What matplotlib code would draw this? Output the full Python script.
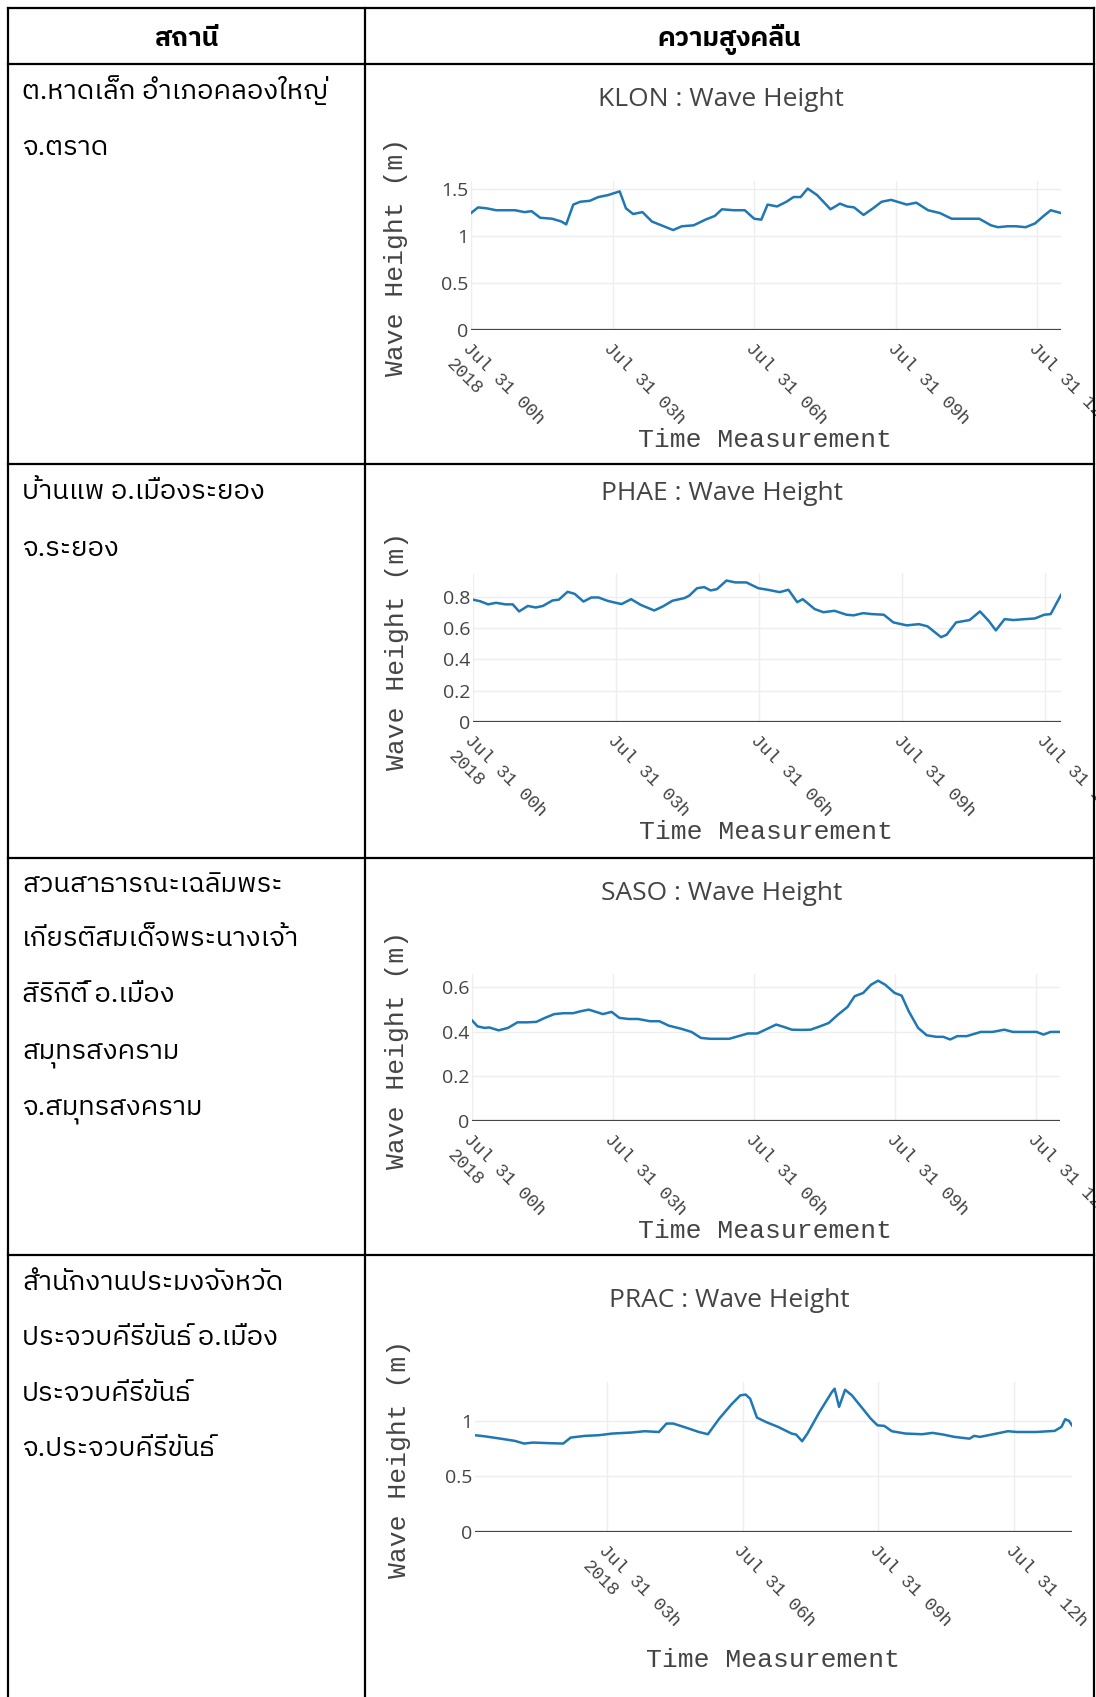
import numpy as np
import matplotlib
matplotlib.use("Agg")
import matplotlib.pyplot as plt
from matplotlib.lines import Line2D
import matplotlib.font_manager as fm
from matplotlib.ft2font import FT2Font

# ---------------- data ----------------
header_station = "สถานี"
header_wave = "ความสูงคลื่น"

station_lines = [
    ["ต.หาดเล็ก อำเภอคลองใหญ่", "จ.ตราด"],
    ["บ้านแพ อ.เมืองระยอง", "จ.ระยอง"],
    ["สวนสาธารณะเฉลิมพระ", "เกียรติสมเด็จพระนางเจ้า", "สิริกิติ์ อ.เมือง",
     "สมุทรสงคราม", "จ.สมุทรสงคราม"],
    ["สำนักงานประมงจังหวัด", "ประจวบคีรีขันธ์ อ.เมือง", "ประจวบคีรีขันธ์",
     "จ.ประจวบคีรีขันธ์"],
]

chart_titles = ["KLON : Wave Height", "PHAE : Wave Height",
                "SASO : Wave Height", "PRAC : Wave Height"]
y_title = "Wave Height (m)"
x_title = "Time Measurement"

# hours after 2018-07-31 00:00
klon_hours = [0.00, 0.15, 0.34, 0.54, 0.74, 0.93, 1.13, 1.28, 1.47, 1.72, 1.92, 2.02,
              2.16, 2.31, 2.51, 2.70, 2.90, 3.15, 3.29, 3.44, 3.64, 3.83, 4.08, 4.28,
              4.47, 4.72, 4.97, 5.16, 5.31, 5.56, 5.80, 6.00, 6.15, 6.29, 6.49, 6.69,
              6.83, 6.98, 7.13, 7.33, 7.47, 7.62, 7.82, 7.96, 8.11, 8.31, 8.51, 8.70,
              8.90, 9.10, 9.24, 9.44, 9.69, 9.93, 10.18, 10.47, 10.77, 11.01, 11.16,
              11.36, 11.55, 11.75, 11.95, 12.14, 12.29, 12.50]
klon_height = [1.24, 1.30, 1.29, 1.27, 1.27, 1.27, 1.25, 1.26, 1.19, 1.18, 1.15, 1.12,
               1.33, 1.36, 1.37, 1.41, 1.43, 1.47, 1.29, 1.23, 1.25, 1.15, 1.10, 1.06,
               1.10, 1.11, 1.17, 1.21, 1.28, 1.27, 1.27, 1.18, 1.17, 1.33, 1.31, 1.36,
               1.41, 1.41, 1.50, 1.43, 1.36, 1.28, 1.34, 1.31, 1.30, 1.22, 1.29, 1.36,
               1.38, 1.35, 1.33, 1.35, 1.27, 1.24, 1.18, 1.18, 1.18, 1.11, 1.09,
               1.10, 1.10, 1.09, 1.13, 1.21, 1.27, 1.24]

phae_hours = [0.00, 0.15, 0.31, 0.49, 0.68, 0.83, 0.97, 1.15, 1.31, 1.46, 1.66, 1.80,
              1.98, 2.14, 2.31, 2.48, 2.63, 2.82, 2.97, 3.12, 3.31, 3.51, 3.80, 3.99,
              4.19, 4.43, 4.53, 4.70, 4.85, 4.99, 5.11, 5.31, 5.50, 5.74, 5.99, 6.18,
              6.43, 6.62, 6.80, 6.91, 7.16, 7.35, 7.59, 7.84, 7.98, 8.18, 8.37, 8.62,
              8.81, 9.10, 9.35, 9.54, 9.81, 9.93, 10.13, 10.42, 10.63, 10.81, 10.97,
              11.15, 11.34, 11.59, 11.78, 11.98, 12.12, 12.34]
phae_height = [0.780, 0.770, 0.750, 0.760, 0.750, 0.750, 0.705, 0.740, 0.730, 0.740,
               0.775, 0.780, 0.830, 0.817, 0.768, 0.794, 0.794, 0.773, 0.762, 0.752,
               0.783, 0.747, 0.711, 0.737, 0.773, 0.790, 0.805, 0.853, 0.860, 0.839,
               0.847, 0.902, 0.890, 0.890, 0.853, 0.843, 0.828, 0.843, 0.764, 0.783,
               0.720, 0.700, 0.709, 0.684, 0.680, 0.694, 0.688, 0.684, 0.635, 0.616,
               0.624, 0.610, 0.541, 0.556, 0.635, 0.650, 0.705, 0.645, 0.584, 0.656,
               0.650, 0.656, 0.660, 0.684, 0.688, 0.810]

saso_hours = [0.00, 0.12, 0.27, 0.37, 0.56, 0.76, 0.96, 1.16, 1.36, 1.55, 1.75, 1.95,
              2.15, 2.32, 2.48, 2.64, 2.79, 2.96, 3.14, 3.34, 3.53, 3.78, 3.98, 4.18,
              4.43, 4.67, 4.87, 5.07, 5.27, 5.47, 5.66, 5.86, 6.06, 6.26, 6.46, 6.65,
              6.80, 7.00, 7.20, 7.40, 7.59, 7.79, 7.99, 8.14, 8.32, 8.49, 8.63, 8.78,
              8.98, 9.13, 9.28, 9.48, 9.67, 9.87, 10.02, 10.17, 10.32, 10.51, 10.81,
              11.06, 11.31, 11.50, 11.80, 12.00, 12.15, 12.30, 12.50]
saso_height = [0.452, 0.425, 0.418, 0.420, 0.407, 0.418, 0.443, 0.443, 0.445, 0.463,
               0.480, 0.484, 0.484, 0.493, 0.500, 0.490, 0.480, 0.490, 0.463, 0.458,
               0.458, 0.448, 0.448, 0.428, 0.415, 0.400, 0.373, 0.369, 0.369, 0.369,
               0.381, 0.393, 0.393, 0.413, 0.433, 0.421, 0.410, 0.409, 0.410, 0.425,
               0.440, 0.478, 0.512, 0.560, 0.575, 0.612, 0.630, 0.612, 0.575, 0.563,
               0.493, 0.418, 0.385, 0.378, 0.378, 0.366, 0.381, 0.381, 0.400, 0.400,
               0.410, 0.400, 0.400, 0.400, 0.388, 0.400, 0.400]

prac_hours = [0.09, 0.29, 0.65, 0.96, 1.17, 1.37, 1.68, 2.04, 2.20, 2.51, 2.81, 3.12,
              3.53, 3.84, 4.15, 4.31, 4.46, 4.77, 5.03, 5.23, 5.49, 5.75, 5.95, 6.06,
              6.16, 6.31, 6.52, 6.78, 7.08, 7.19, 7.31, 7.44, 7.70, 7.96, 8.04, 8.14,
              8.27, 8.42, 8.68, 8.83, 8.99, 9.14, 9.30, 9.60, 9.96, 10.20, 10.43, 10.69,
              11.01, 11.12, 11.25, 11.61, 11.87, 12.07, 12.49, 12.90, 13.05, 13.13,
              13.21, 13.28]
prac_height = [0.871, 0.862, 0.840, 0.820, 0.796, 0.805, 0.800, 0.796, 0.850, 0.865,
               0.871, 0.886, 0.895, 0.907, 0.900, 0.976, 0.976, 0.937, 0.900, 0.880,
               1.020, 1.147, 1.230, 1.237, 1.200, 1.030, 0.990, 0.946, 0.886, 0.877,
               0.817, 0.886, 1.080, 1.255, 1.290, 1.126, 1.280, 1.230, 1.096, 1.020,
               0.960, 0.955, 0.907, 0.886, 0.880, 0.892, 0.877, 0.856, 0.840, 0.865,
               0.856, 0.886, 0.907, 0.900, 0.900, 0.910, 0.946, 1.015, 1.000, 0.960]

xtick_hours_a = [0, 3, 6, 9, 12]
xtick_labels_a = ["Jul 31 00h\n2018", "Jul 31 03h", "Jul 31 06h", "Jul 31 09h", "Jul 31 12h"]
xtick_hours_b = [3, 6, 9, 12]
xtick_labels_b = ["Jul 31 03h\n2018", "Jul 31 06h", "Jul 31 09h", "Jul 31 12h"]

yticks_klon = [0, 0.5, 1, 1.5]
yticks_phae = [0, 0.2, 0.4, 0.6, 0.8]
yticks_saso = [0, 0.2, 0.4, 0.6]
yticks_prac = [0, 0.5, 1]

# ---------------- fonts ----------------
def find_thai_family():
    need = [0x0E01, 0x0E33, 0x0E48, 0x0E2A]
    fams = {}
    for f in fm.fontManager.ttflist:
        try:
            cmap = FT2Font(f.fname).get_charmap()
        except Exception:
            continue
        if all(cp in cmap for cp in need):
            fams.setdefault(f.name, []).append(f)
    if not fams:
        return None

    def score(n):
        s = 0
        if "Thai" in n:
            s -= 10
        if "Looped" in n:
            s += 6
        if "Sans" in n:
            s -= 3
        if "Serif" in n:
            s += 2
        return s
    return sorted(fams, key=score)[0]

thai = find_thai_family()
thai_fam = [thai, "DejaVu Sans"] if thai else ["DejaVu Sans"]
MONO = "Liberation Mono"
SANS = "Open Sans"
TXT = "#444444"

# ---------------- layout ----------------
W, H = 1096, 1697
fig = plt.figure(figsize=(W / 100, H / 100), dpi=100)
fig.patch.set_facecolor("white")


def fx(x):
    return x / W


def fy(y):
    return 1 - y / H


# table grid
lw_tab = 1.6
x_left, x_mid, x_right = 7.5, 365, 1094
row_edges = [7.5, 64, 464, 858, 1255]
for y in row_edges:
    fig.add_artist(Line2D([fx(x_left), fx(x_right)], [fy(y), fy(y)],
                          transform=fig.transFigure, color="black", lw=lw_tab))
for x in (x_left, x_mid, x_right):
    fig.add_artist(Line2D([fx(x), fx(x)], [fy(row_edges[0]), fy(H)],
                          transform=fig.transFigure, color="black", lw=lw_tab))

renderer = fig.canvas.get_renderer()


def fitted_text(x, y, s, target_w, weight="normal", ha="left", **kw):
    t = fig.text(fx(x), fy(y), s, family=thai_fam, fontsize=20, weight=weight,
                 ha=ha, va="baseline", **kw)
    w = t.get_window_extent(renderer).width
    size = 20 * target_w / w
    t.set_fontsize(size)
    return t, size


# header
_, hsize = fitted_text((x_mid + x_right) / 2, 46, header_wave, 144, weight="bold", ha="center")
fig.text(fx((x_left + x_mid) / 2), fy(46), header_station, family=thai_fam,
         fontsize=hsize, weight="bold", ha="center", va="baseline")

# station names
_, bsize = fitted_text(-1000, -1000, station_lines[0][0], 306)
line_centers = [[92, 148], [492, 549], [885, 939, 995, 1052, 1108], [1283, 1338, 1394, 1449]]
base_off = 0.27 * bsize * 100 / 72
for lines, centers in zip(station_lines, line_centers):
    for s, yc in zip(lines, centers):
        fig.text(fx(22), fy(yc + base_off), s, family=thai_fam, fontsize=bsize,
                 color="black", ha="left", va="baseline")

# charts
base_time = np.datetime64("2018-07-31T00:00")


def to_time(hours):
    return base_time + np.round(np.asarray(hours) * 60).astype("timedelta64[m]")


charts = [
    dict(h=klon_hours, v=klon_height, box=(471, 181, 1061, 330), ytop=1.58,
         yt=yticks_klon, xt=xtick_hours_a, xl=xtick_labels_a,
         title=(721, 106), xlab=(765, 447), ylab=(396, 257)),
    dict(h=phae_hours, v=phae_height, box=(473, 573, 1061, 722), ytop=0.95,
         yt=yticks_phae, xt=xtick_hours_a, xl=xtick_labels_a,
         title=(722, 500), xlab=(766, 839), ylab=(397, 651)),
    dict(h=saso_hours, v=saso_height, box=(472, 974, 1060, 1121), ytop=0.66,
         yt=yticks_saso, xt=xtick_hours_a, xl=xtick_labels_a,
         title=(722, 900), xlab=(765, 1238), ylab=(397, 1050)),
    dict(h=prac_hours, v=prac_height, box=(475, 1382, 1072, 1532), ytop=1.35,
         yt=yticks_prac, xt=xtick_hours_b, xl=xtick_labels_b,
         title=(729, 1307), xlab=(773, 1667), ylab=(399, 1459)),
]

for c, ttl in zip(charts, chart_titles):
    l, t, r, b = c["box"]
    ax = fig.add_axes([fx(l), fy(b), (r - l) / W, (b - t) / H])
    tt = to_time(c["h"])
    ax.plot(tt, c["v"], color="#1f77b4", lw=1.8, solid_joinstyle="round", zorder=3)
    ax.set_xlim(tt[0], tt[-1])
    ax.set_ylim(0, c["ytop"])
    for sp in ax.spines.values():
        sp.set_visible(False)
    ax.set_xticks(to_time(c["xt"]))
    ax.set_xticklabels(c["xl"], rotation=-45, ha="left", va="top",
                       rotation_mode="anchor", family=MONO, fontsize=13,
                       color=TXT, linespacing=1.45)
    ax.set_yticks(c["yt"])
    ax.set_yticklabels(["{:g}".format(v) for v in c["yt"]], family=SANS,
                       fontsize=14, color=TXT)
    ax.tick_params(axis="x", length=0, pad=7)
    ax.tick_params(axis="y", length=0, pad=2)
    ax.grid(True, color="#eeeeee", lw=1.0, zorder=0)
    ax.axhline(0, color="#444444", lw=1.6, zorder=2)
    ax.set_facecolor("white")
    fig.text(fx(c["title"][0]), fy(c["title"][1]), ttl, family=SANS, fontsize=19,
             color=TXT, ha="center", va="baseline")
    fig.text(fx(c["xlab"][0]), fy(c["xlab"][1]), x_title, family=MONO, fontsize=19,
             color=TXT, ha="center", va="baseline")
    fig.text(fx(c["ylab"][0]), fy(c["ylab"][1]), y_title, family=MONO, fontsize=19,
             color=TXT, ha="center", va="center", rotation=90)

fig.savefig("out.png", dpi=100, facecolor="white")
